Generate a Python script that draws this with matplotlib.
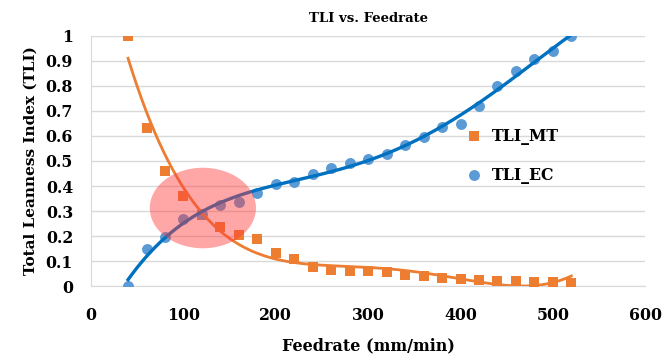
import numpy as np
import matplotlib
matplotlib.use("Agg")
import matplotlib.pyplot as plt
from matplotlib.patches import Ellipse

feedrate = [40, 60, 80, 100, 120, 140, 160, 180, 200, 220, 240, 260, 280,
            300, 320, 340, 360, 380, 400, 420, 440, 460, 480, 500, 520]
tli_mt = [1.0, 0.631, 0.46, 0.361, 0.284, 0.235, 0.203, 0.187, 0.133, 0.11,
          0.075, 0.064, 0.062, 0.062, 0.058, 0.044, 0.04, 0.033, 0.03, 0.026,
          0.022, 0.02, 0.018, 0.018, 0.013]
tli_ec = [0.0, 0.15, 0.197, 0.27, 0.29, 0.324, 0.337, 0.373, 0.408, 0.417,
          0.448, 0.473, 0.493, 0.507, 0.528, 0.564, 0.595, 0.635, 0.648, 0.72,
          0.80, 0.861, 0.907, 0.941, 1.0]

ORANGE = "#ED7D31"
BLUE_PT = "#5B9BD5"
BLUE_LN = "#0070C0"

plt.rcParams["font.family"] = "DejaVu Serif"
plt.rcParams["font.weight"] = "bold"

fig = plt.figure(figsize=(6.7, 3.63), dpi=100)
ax = fig.add_axes([0.136, 0.212, 0.827, 0.689])

x = np.array(feedrate, dtype=float)
xs = np.linspace(x.min(), x.max(), 300)

# trendlines (polynomial fits of the data)
mt_fit = np.polynomial.Polynomial.fit(x, tli_mt, 4)(xs)
ec_fit = np.polynomial.Polynomial.fit(x, tli_ec, 4)(xs)

ax.scatter(feedrate, tli_mt, marker="s", s=55, color=ORANGE, lw=0, zorder=3, label="TLI_MT")
ax.scatter(feedrate, tli_ec, marker="o", s=62, color=BLUE_PT, lw=0, zorder=3, label="TLI_EC")
ax.plot(xs, mt_fit, color=ORANGE, lw=2, zorder=4)
ax.plot(xs, ec_fit, color=BLUE_LN, lw=2.4, zorder=4)

ax.add_patch(Ellipse((121, 0.312), 115, 0.322, facecolor="#FF3C3C",
                     alpha=0.45, edgecolor="none", zorder=5))

ax.set_xlim(0, 600)
ax.set_ylim(0, 1)
ax.set_xticks(range(0, 601, 100))
ax.set_yticks(np.arange(0, 1.01, 0.1))
ax.set_yticklabels(["0", "0.1", "0.2", "0.3", "0.4", "0.5", "0.6", "0.7", "0.8", "0.9", "1"])
ax.tick_params(axis="x", length=0, labelsize=11.3, pad=15)
ax.tick_params(axis="y", length=0, labelsize=11.3, pad=13)
ax.grid(True, axis="y", color="#D9D9D9", lw=1)
ax.set_axisbelow(True)
for side in ["top", "right"]:
    ax.spines[side].set_visible(False)
for side in ["left", "bottom"]:
    ax.spines[side].set_color("#D9D9D9")

ax.set_title("TLI vs. Feedrate", fontsize=9.5, fontweight="bold", pad=10)
ax.set_xlabel("Feedrate (mm/min)", fontsize=11.5, fontweight="bold", labelpad=10)
ax.set_ylabel("Total Leanness Index (TLI)", fontsize=11, fontweight="bold", labelpad=6)

ax.legend(loc="upper left", bbox_to_anchor=(0.638, 0.69), frameon=False,
          fontsize=11.3, handletextpad=0.1, labelspacing=1.4, markerscale=1.0)

plt.savefig("out.png", dpi=100)
